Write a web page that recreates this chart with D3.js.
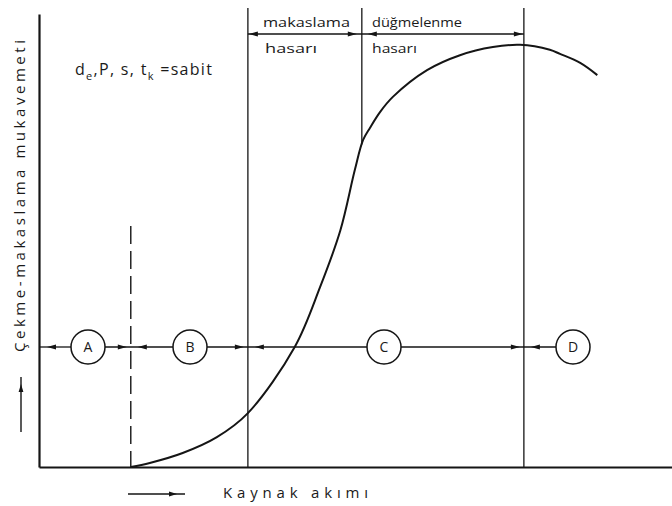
<!DOCTYPE html>
<html>
<head>
<meta charset="utf-8">
<script src="https://cdn.jsdelivr.net/npm/d3@7"></script>
<style>
  html, body { margin: 0; padding: 0; background: #fff; }
  svg { display: block; }
  text { font-family: "Open Sans", "DejaVu Sans", sans-serif; fill: #1a1a1a; }
</style>
</head>
<body>
<script>
// ---- data ----
// welding current (relative units) vs tensile-shear strength (relative units)
const currentValues  = [14.5, 17.5, 22.7, 28.1, 33.0, 40.4, 44.4, 47.6, 49.9, 51.2, 52.3, 53.9, 55.9, 61.3, 66.5, 71.7, 76.0, 80.7, 82.3, 85.5, 88.2];
const strengthValues = [0.0,  0.9,  3.1,  6.6,  11.9, 26.5, 39.7, 52.2, 65.6, 72.2, 74.9, 78.4, 81.7, 87.6, 90.9, 92.7, 93.2, 92.1, 91.2, 89.2, 86.5];
const zoneLabels     = ["A", "B", "C", "D"];
const zoneBounds     = [0, 14.5, 33.0, 76.6, 100];   // A|B dashed, B|C, C|D
const failureBound   = 51.0;                          // shear / button-pull failure limit
const failureLabels  = [["makaslama", "hasarı"], ["düğmelenme", "hasarı"]];
const yAxisTitle     = "Çekme-makaslama mukavemeti";
const xAxisTitle     = "Kaynak akımı";

// ---- layout ----
const W = 672, H = 506;
const svg = d3.select("body").append("svg").attr("width", W).attr("height", H);
const x = d3.scaleLinear().domain([0, 100]).range([39, 672]);
const y = d3.scaleLinear().domain([0, 100]).range([467, 14]);
const ink = "#151515";

function arrowHead(g, tipX, tipY, dir, len = 9, hw = 2.6) {
  let pts;
  if (dir === "right") pts = [[tipX, tipY], [tipX - len, tipY - hw], [tipX - len, tipY + hw]];
  else if (dir === "left") pts = [[tipX, tipY], [tipX + len, tipY - hw], [tipX + len, tipY + hw]];
  else pts = [[tipX, tipY], [tipX - hw, tipY + len], [tipX + hw, tipY + len]];
  g.append("path").attr("d", "M" + pts.map(p => p.join(",")).join("L") + "Z").attr("fill", ink);
}

// axes (domain lines only)
const gx = svg.append("g").attr("transform", `translate(0,${y(0)})`)
  .call(d3.axisBottom(x).ticks(0).tickSizeOuter(0));
const gy = svg.append("g").attr("transform", `translate(${x(0)},0)`)
  .call(d3.axisLeft(y).ticks(0).tickSizeOuter(0));
[gx, gy].forEach(g => g.select(".domain").attr("stroke", ink).attr("stroke-width", 2.2));

// vertical zone boundaries
const topY = 8;
svg.append("line").attr("x1", x(zoneBounds[1])).attr("x2", x(zoneBounds[1]))
  .attr("y1", 226).attr("y2", y(0))
  .attr("stroke", ink).attr("stroke-width", 1.4).attr("stroke-dasharray", "18,7");
[zoneBounds[2], zoneBounds[3]].forEach(b => {
  svg.append("line").attr("x1", x(b)).attr("x2", x(b)).attr("y1", topY).attr("y2", y(0))
    .attr("stroke", ink).attr("stroke-width", 1.3);
});
const interp = d3.scaleLinear().domain(currentValues).range(strengthValues);
svg.append("line").attr("x1", x(failureBound)).attr("x2", x(failureBound))
  .attr("y1", topY).attr("y2", y(interp(failureBound)))
  .attr("stroke", ink).attr("stroke-width", 1.3);

// curve
const line = d3.line().x((d, i) => x(currentValues[i])).y(d => y(d)).curve(d3.curveCatmullRom.alpha(0.5));
svg.append("path").datum(strengthValues).attr("d", line)
  .attr("fill", "none").attr("stroke", ink).attr("stroke-width", 2);

// top failure-mode arrow line
const topArrowY = 34;
const ta = svg.append("g");
ta.append("line").attr("x1", x(zoneBounds[2])).attr("x2", x(zoneBounds[3]))
  .attr("y1", topArrowY).attr("y2", topArrowY).attr("stroke", ink).attr("stroke-width", 1.6);
arrowHead(ta, x(zoneBounds[2]) + 1, topArrowY, "left");
arrowHead(ta, x(failureBound) - 5, topArrowY, "right");
arrowHead(ta, x(failureBound) + 6, topArrowY, "left");
arrowHead(ta, x(zoneBounds[3]) - 1, topArrowY, "right");

const failSpans = [[[263, 350], [265, 317]], [[372, 462], [372, 417]]];
failureLabels.forEach((lbl, i) => {
  lbl.forEach((t, j) => {
    const sp = failSpans[i][j];
    svg.append("text").attr("x", sp[0]).attr("y", j === 0 ? 27 : 53)
      .attr("font-size", 13).attr("textLength", sp[1] - sp[0]).attr("lengthAdjust", "spacingAndGlyphs")
      .text(t);
  });
});

// constants note
const note = svg.append("text").attr("x", 75).attr("y", 75).attr("font-size", 16).attr("letter-spacing", 1.3);
note.append("tspan").text("d");
note.append("tspan").attr("font-size", 11).attr("dy", 5).text("e");
note.append("tspan").attr("dy", -5).text(",P, s, t");
note.append("tspan").attr("font-size", 11).attr("dy", 5).text("k");
note.append("tspan").attr("dy", -5).text(" =sabit");

// zone row
const rowY = 347, r = 17;
const centers = [88, 190, 384, 573];
const row = svg.append("g");
const segs = [[x(0), centers[0] - r], [centers[0] + r, centers[1] - r], [centers[1] + r, centers[2] - r], [centers[2] + r, centers[3] - r]];
segs.forEach(s => row.append("line").attr("x1", s[0]).attr("x2", s[1]).attr("y1", rowY).attr("y2", rowY)
  .attr("stroke", ink).attr("stroke-width", 1.3));
arrowHead(row, x(0) + 8, rowY, "left");
[zoneBounds[1], zoneBounds[2], zoneBounds[3]].forEach(b => {
  arrowHead(row, x(b) - 4, rowY, "right");
  arrowHead(row, x(b) + 7, rowY, "left");
});
zoneLabels.forEach((lab, i) => {
  row.append("circle").attr("cx", centers[i]).attr("cy", rowY).attr("r", r)
    .attr("fill", "#fff").attr("stroke", ink).attr("stroke-width", 1.5);
  row.append("text").attr("x", centers[i]).attr("y", rowY + 5).attr("text-anchor", "middle")
    .attr("font-size", 14).text(lab);
});

// axis titles
svg.append("text").attr("transform", "translate(25,352) rotate(-90)")
  .attr("font-size", 15).attr("textLength", 312).attr("lengthAdjust", "spacing").text(yAxisTitle);
const ya = svg.append("g");
ya.append("line").attr("x1", 21).attr("x2", 21).attr("y1", 432).attr("y2", 377).attr("stroke", ink).attr("stroke-width", 1.4);
arrowHead(ya, 21, 384, "up", 8, 2.4);

svg.append("text").attr("x", 223).attr("y", 498).attr("font-size", 15)
  .attr("textLength", 145).attr("lengthAdjust", "spacing").text(xAxisTitle);
const xa = svg.append("g");
xa.append("line").attr("x1", 128).attr("x2", 185).attr("y1", 494).attr("y2", 494).attr("stroke", ink).attr("stroke-width", 1.4);
arrowHead(xa, 177, 494, "right", 8, 2.4);
</script>
</body>
</html>
